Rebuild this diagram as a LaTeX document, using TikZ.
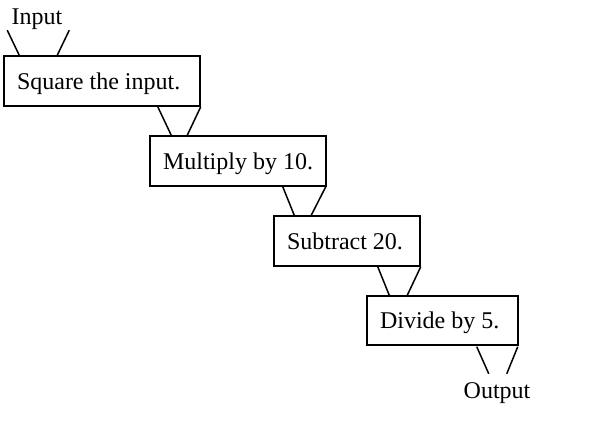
\documentclass[tikz,border=0pt]{standalone}
\usepackage{fontspec}
\setmainfont{Liberation Serif}
\usetikzlibrary{calc}
\begin{document}
\begin{tikzpicture}[x=1pt,y=-1pt,
  stepbox/.style={draw, line width=1.5pt, inner xsep=13pt, inner ysep=0pt, minimum height=50pt, text height=20pt, text depth=4pt, font=\fontsize{24}{28}\selectfont},
  lbl/.style={inner sep=0pt, anchor=base, font=\fontsize{24}{28}\selectfont},
  funnel/.style={line width=1.5pt}]
\useasboundingbox (0,0) rectangle (596,428);
\node[stepbox] (b1) at (102,81) {\makebox[170pt][l]{Square the input.}};
\node[stepbox] (b2) at (238,161) {\makebox[150pt][l]{Multiply by 10.}};
\node[stepbox] (b3) at (347,241) {\makebox[120pt][l]{Subtract 20.}};
\node[stepbox, minimum height=49pt] (b4) at (442.5,320.5) {\makebox[125pt][l]{Divide by 5.}};
\node[lbl] (in) at (37,25) {Input};
\node[lbl] (out) at (497,398) {Output};
% input funnel
\coordinate (inl) at ($(b1.north west)+(4,-25)$);
\coordinate (inr) at ($(b1.north west)+(66,-25)$);
\draw[funnel] (inl) -- ($(b1.north west)+(16,0)$);
\draw[funnel] (inr) -- ($(b1.north west)+(54,0)$);
% b1 -> b2
\draw[funnel] ($(b1.south east)+(-43,0)$) -- ($(b2.north west)+(22,0)$);
\draw[funnel] ($(b1.south east)+(0,0)$) -- ($(b2.north west)+(38,0)$);
% b2 -> b3
\draw[funnel] ($(b2.south east)+(-44,0)$) -- ($(b3.north west)+(21,0)$);
\draw[funnel] ($(b2.south east)+(-1,0)$) -- ($(b3.north west)+(38,0)$);
% b3 -> b4
\draw[funnel] ($(b3.south east)+(-43,0)$) -- ($(b4.north west)+(23,0)$);
\draw[funnel] ($(b3.south east)+(0,0)$) -- ($(b4.north west)+(41,0)$);
% output funnel
\coordinate (outl) at ($(b4.south east)+(-30,28)$);
\coordinate (outr) at ($(b4.south east)+(-12,28)$);
\draw[funnel] ($(b4.south east)+(-42,1)$) -- (outl);
\draw[funnel] ($(b4.south east)+(-1,1)$) -- (outr);
\end{tikzpicture}
\end{document}
